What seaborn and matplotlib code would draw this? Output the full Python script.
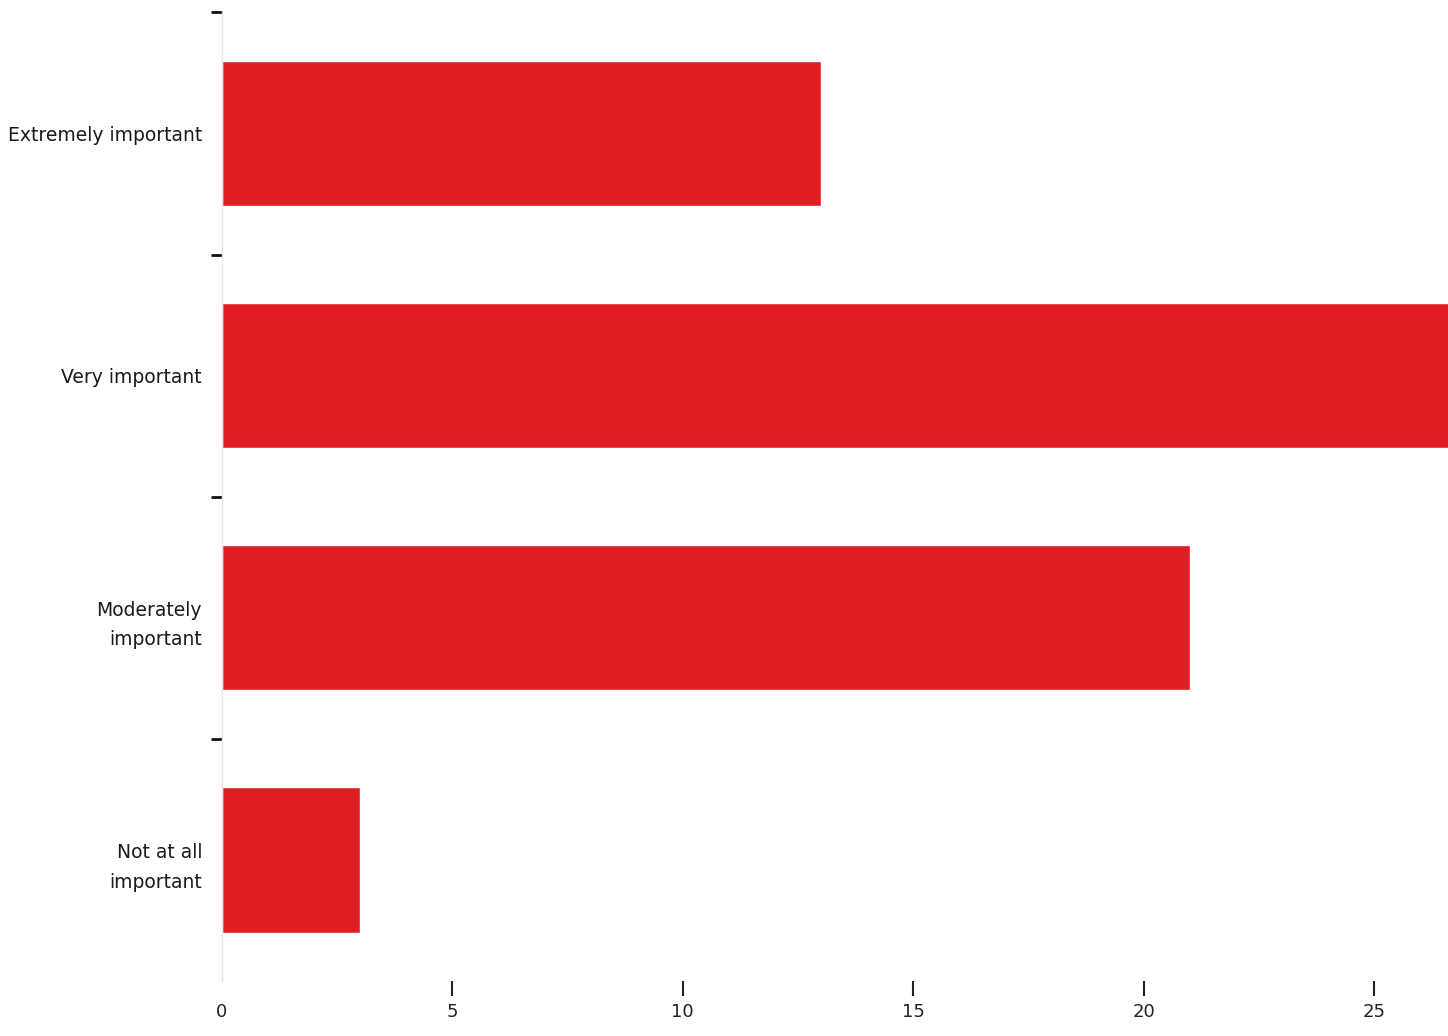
import numpy as np
import pandas as pd
import matplotlib
matplotlib.use('Agg')
import matplotlib.pyplot as plt
import seaborn as sns

# Survey answers and counts
categories = ['Extremely important', 'Very important', 'Moderately\nimportant', 'Not at all\nimportant']
counts = [13, 27, 21, 3]
x_ticks = [0, 5, 10, 15, 20, 25]

df = pd.DataFrame({'answer': categories, 'count': counts})

sns.set_theme(style='white')
plt.rcParams['font.family'] = ['DejaVu Sans']

fig = plt.figure(figsize=(14.48, 10.36), dpi=100)
ax = fig.add_axes([0.153, 0.053, 0.847, 0.935])

sns.barplot(data=df, y='answer', x='count', color='#E01E22', saturation=1,
            width=0.6, orient='h', ax=ax)

ax.set_xlim(0, 26.6)
ax.set_ylim(3.5, -0.5)
ax.set_xlabel('')
ax.set_ylabel('')

# spines: only a faint left axis line
for side in ['top', 'right', 'bottom']:
    ax.spines[side].set_visible(False)
ax.spines['left'].set_color('#e6e6e6')
ax.spines['left'].set_linewidth(1)

# x ticks: short vertical marks a bit below the plot
ax.set_xticks(x_ticks)
ax.tick_params(axis='x', bottom=True, direction='out', length=11, width=1.5,
               color='#222222', labelsize=13, labelcolor='#222222', pad=5)
ax.xaxis.get_major_ticks()[0].tick1line.set_visible(False)

# y labels at bar centres without ticks, small dashes between categories
ax.tick_params(axis='y', which='major', left=True, length=0, pad=14,
               labelsize=13.5, labelcolor='#1a1a1a')
ax.set_yticks(np.arange(-0.5, 3.0, 1.0), minor=True)
ax.tick_params(axis='y', which='minor', left=True, direction='out', length=8,
               width=2, color='#111111')
for lbl in ax.get_yticklabels():
    lbl.set_horizontalalignment('right')
    lbl.set_multialignment('right')
    lbl.set_linespacing(1.7)

fig.savefig('out.png', dpi=100)
